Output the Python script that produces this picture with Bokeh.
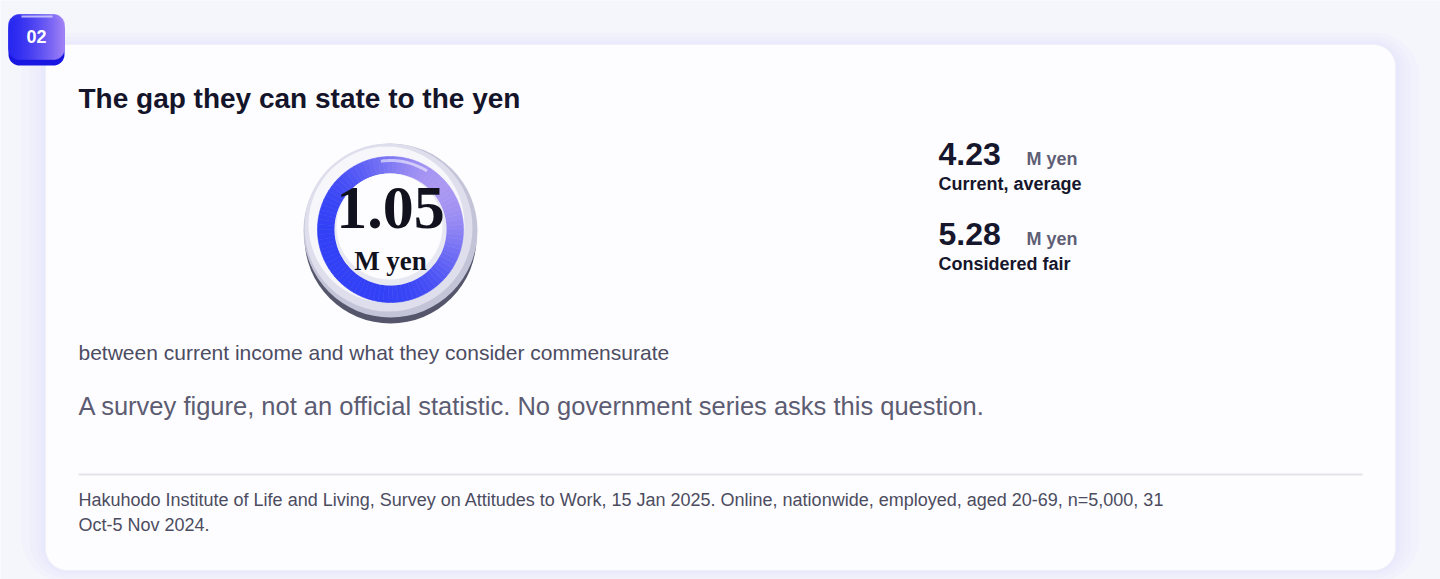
import numpy as np
from bokeh.plotting import figure
from bokeh.models import Range1d, ColumnDataSource
from bokeh.core.properties import value
from bokeh.embed import file_html
from bokeh.resources import INLINE

# ---------------- data ----------------
badge_label = "02"
title_text = "The gap they can state to the yen"
gap_values = [1.05]
gap_units = ["M yen"]
stat_values = [4.23, 5.28]
stat_units = ["M yen", "M yen"]
stat_labels = ["Current, average", "Considered fair"]
caption_text = "between current income and what they consider commensurate"
note_text = "A survey figure, not an official statistic. No government series asks this question."
source_lines = [
    "Hakuhodo Institute of Life and Living, Survey on Attitudes to Work, 15 Jan 2025. Online, nationwide, employed, aged 20-69, n=5,000, 31",
    "Oct-5 Nov 2024.",
]

SANS = value("Liberation Sans")
SERIF = value("Liberation Serif")
K = 0.37  # svg alphabetic-baseline correction (fraction of font size)

W, H = 1440, 579
p = figure(width=W, height=H, x_range=Range1d(0, W), y_range=Range1d(H, 0),
           output_backend="svg", toolbar_location=None,
           x_axis_type=None, y_axis_type=None, min_border=0)
p.grid.visible = False
p.outline_line_color = None
p.background_fill_color = "#f5f5fc"
p.border_fill_color = "#f5f5fc"


def rrect(x0, y0, x1, y1, r, n=12):
    xs, ys = [], []
    corners = [((x1 - r, y0 + r), -90, 0), ((x1 - r, y1 - r), 0, 90),
               ((x0 + r, y1 - r), 90, 180), ((x0 + r, y0 + r), 180, 270)]
    for (cx, cy), a0, a1 in corners:
        a = np.radians(np.linspace(a0, a1, n))
        xs += list(cx + r * np.cos(a))
        ys += list(cy + r * np.sin(a))
    return xs, ys


def band(x0, y0, x1, y1, r, xa, xb, n=5):
    xs = np.linspace(xa, xb, n)

    def off(x):
        if x < x0 + r:
            d = x0 + r - x
        elif x > x1 - r:
            d = x - (x1 - r)
        else:
            return 0.0
        d = min(d, r)
        return r - np.sqrt(max(r * r - d * d, 0))

    top = [y0 + off(x) for x in xs]
    bot = [y1 - off(x) for x in xs]
    return list(xs) + list(xs[::-1]), top + bot[::-1]


def mix(c0, c1, t):
    return "#%02x%02x%02x" % tuple(int(round(a + (b - a) * t)) for a, b in zip(c0, c1))


def txt(x, y, size, **kw):
    # y is the wanted baseline position; compensate for svg baseline offset
    return p.text(x=x, y=[v - K * size for v in y], text_font_size="%gpx" % size,
                  text_baseline="alphabetic", **kw)


# ---------------- card with glow ----------------
CX0, CY0, CX1, CY1 = 45, 44, 1395, 570
for grow, alpha in [(24, 0.05), (16, 0.06), (9, 0.07), (4, 0.08)]:
    gx, gy = rrect(CX0 - grow, CY0 - grow * 0.5, CX1 + grow, CY1 + grow * 0.5, 22 + grow)
    p.patch(gx, gy, fill_color="#c9c6fb", fill_alpha=alpha, line_color=None)
cx_, cy_ = rrect(CX0, CY0, CX1, CY1, 22)
p.patch(cx_, cy_, fill_color="#fdfdff", line_color="#f0f0f8", line_width=1)

# ---------------- badge ----------------
bx0, by0, bx1, by1, br = 8, 14, 64, 65, 11
dx, dy = rrect(bx0, by0 + 4, bx1, by1, br)
p.patch(dx, dy, fill_color="#1a16e2", line_color=None)
nb = 28
edges = np.linspace(bx0, bx1, nb + 1)
bxs, bys, bcols = [], [], []
for i in range(nb):
    xs, ys = band(bx0, by0, bx1, by1 - 6, br, edges[i], edges[i + 1])
    bxs.append(xs)
    bys.append(ys)
    bcols.append(mix((40, 40, 240), (160, 130, 246), (i / (nb - 1)) ** 1.4))
p.patches(bxs, bys, fill_color=bcols, line_color=bcols, line_width=0.6)
p.segment(x0=[21], y0=[16], x1=[52], y1=[16], line_color="#d8d4ff", line_alpha=0.8, line_width=2)
txt([36], [43], 18, text=[badge_label], text_font=SANS, text_font_style="bold",
    text_color="#ffffff", text_align="center")

# ---------------- title ----------------
txt([78], [108], 28, text=[title_text], text_font=SANS, text_font_style="bold",
    text_color="#14142a")

# ---------------- big disc ----------------
ccx, ccy = 390, 229
p.circle(x=[ccx], y=[ccy + 8], radius=86, fill_color="#55566c", line_color=None)
p.circle(x=[ccx], y=[ccy + 1], radius=87, fill_color="#c4c4d8", line_color=None)
p.circle(x=[ccx - 2], y=[ccy - 2], radius=84, fill_color="#dedeec", line_color=None)
p.circle(x=[ccx - 4], y=[ccy - 5], radius=78, fill_color="#f6f6fb", line_color=None)

# ring (gradient from blue bottom-left to lavender top-right)
nseg = 90
angs = np.linspace(0, 2 * np.pi, nseg + 1)
rxs, rys, rcols = [], [], []
r_in, r_out = 56, 73
for i in range(nseg):
    a = np.linspace(angs[i], angs[i + 1], 4)
    xo = ccx + r_out * np.cos(a)
    yo = ccy - r_out * np.sin(a)
    xi = ccx + r_in * np.cos(a[::-1])
    yi = ccy - r_in * np.sin(a[::-1])
    rxs.append(list(xo) + list(xi))
    rys.append(list(yo) + list(yi))
    mid = (angs[i] + angs[i + 1]) / 2
    t = ((1 + np.cos(mid - np.radians(40))) / 2) ** 2.2
    rcols.append(mix((50, 64, 246), (170, 152, 242), t))
p.patches(rxs, rys, fill_color=rcols, line_color=rcols, line_width=0.6)

# glossy highlight on ring
ha = np.radians(np.linspace(58, 98, 20))
p.line(ccx + 69 * np.cos(ha), ccy - 69 * np.sin(ha), line_color="#ffffff", line_alpha=0.55, line_width=3)

# inner disc
p.circle(x=[ccx], y=[ccy], radius=56, fill_color="#e8e8f2", line_color=None)
p.circle(x=[ccx - 1], y=[ccy - 3], radius=53, fill_color="#fdfdff", line_color=None)

gap_src = ColumnDataSource(dict(x=[ccx], y_num=[230 - K * 62], y_unit=[270 - K * 27],
                                num=["%.2f" % v for v in gap_values], unit=gap_units))
p.text(x="x", y="y_num", text="num", source=gap_src, text_font=SERIF, text_font_style="bold",
       text_font_size="62px", text_color="#12121e", text_align="center", text_baseline="alphabetic")
p.text(x="x", y="y_unit", text="unit", source=gap_src, text_font=SERIF, text_font_style="bold",
       text_font_size="27px", text_color="#12121e", text_align="center", text_baseline="alphabetic")

# ---------------- right-hand stats ----------------
idx = np.arange(len(stat_values))
base = 165 + 80 * idx
stat_src = ColumnDataSource(dict(
    x=[938] * len(idx), xu=[1026] * len(idx),
    y_num=list(base - K * 32), y_unit=list(base - K * 18), y_lab=list(base + 25 - K * 18),
    num=["%.2f" % v for v in stat_values], unit=stat_units, lab=stat_labels))
p.text(x="x", y="y_num", text="num", source=stat_src, text_font=SANS, text_font_style="bold",
       text_font_size="32px", text_color="#16162c", text_baseline="alphabetic")
p.text(x="xu", y="y_unit", text="unit", source=stat_src, text_font=SANS, text_font_style="bold",
       text_font_size="18px", text_color="#5f5f76", text_baseline="alphabetic")
p.text(x="x", y="y_lab", text="lab", source=stat_src, text_font=SANS, text_font_style="bold",
       text_font_size="18px", text_color="#16162c", text_baseline="alphabetic")

# ---------------- caption & note ----------------
txt([78], [360], 21, text=[caption_text], text_font=SANS, text_color="#4c4c62")
txt([78], [415], 25.5, text=[note_text], text_font=SANS, text_color="#5c5c72")

# ---------------- divider & source ----------------
p.segment(x0=[78], y0=[474], x1=[1362], y1=[474], line_color="#e3e3ea", line_width=2)
txt([78, 78], [506.5, 531.5], 18, text=source_lines, text_font=SANS, text_color="#4c4c60")

open("out.html", "w").write(file_html(p, INLINE))
